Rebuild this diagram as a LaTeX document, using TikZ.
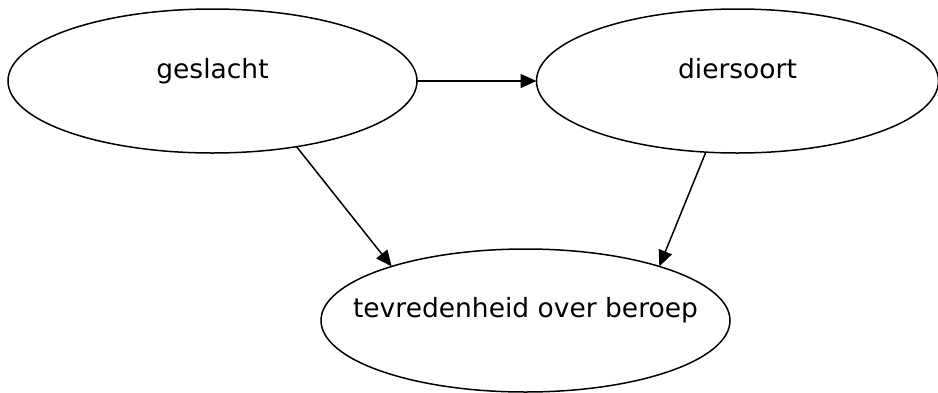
\documentclass[tikz,border=0pt]{standalone}
\usepackage{fontspec}
\setmainfont{DejaVu Sans}
\usetikzlibrary{shapes.geometric,arrows.meta}
\begin{document}
\begin{tikzpicture}[x=1pt,y=-1pt,
  oval/.style={draw,ellipse,line width=1.5pt,inner sep=0pt,outer sep=0pt,
    text height=10pt,text depth=16pt,font=\fontsize{26.5}{30}\selectfont},
  link/.style={line width=1.5pt,-{Triangle[length=16pt,width=14pt]}}]
\useasboundingbox (0,0) rectangle (938,392);
\node[oval,minimum width=409pt,minimum height=144pt] (g) at (212.5,81) {\makebox[0pt]{geslacht}};
\node[oval,minimum width=402pt,minimum height=144pt] (d) at (737.5,81) {\makebox[0pt]{diersoort}};
\node[oval,minimum width=409pt,minimum height=143pt] (t) at (525.5,320.5) {\makebox[0pt]{tevredenheid over beroep}};
\draw[link] (g.east) -- (d.west);
\draw[link] (g.-38) -- (t.158);
\draw[link] (d.-114) -- (t.22);
\end{tikzpicture}
\end{document}
